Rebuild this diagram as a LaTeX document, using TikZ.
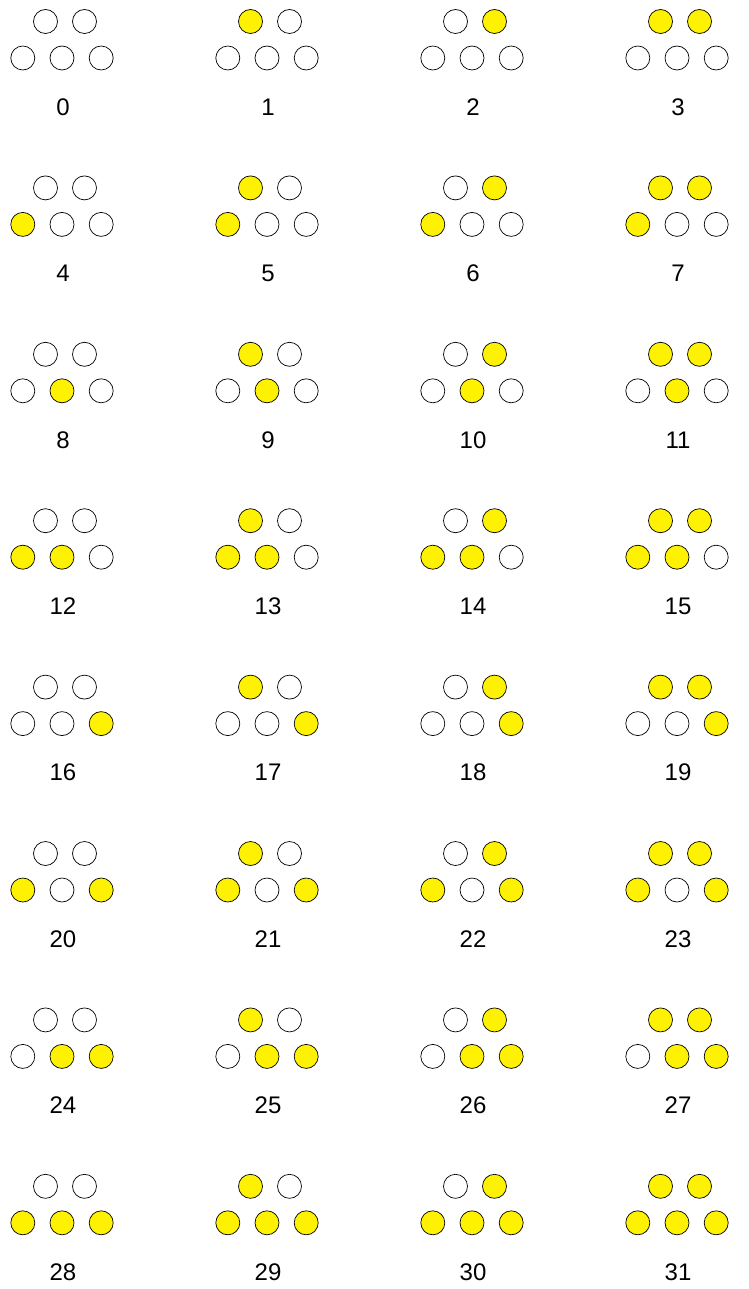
\documentclass[tikz,border=0pt]{standalone}
\usepackage{fontspec}
\setmainfont{Liberation Sans}
\usepackage{tikz}
\usetikzlibrary{positioning}

\begin{document}
\begin{tikzpicture}[
    x=1pt, y=-1pt,
    node distance=14.5pt,
    dot/.style={circle, draw, line width=0.7pt, minimum size=24pt, inner sep=0pt},
    led0/.style={dot, fill=white},
    led1/.style={dot, fill=yellow},
    num/.style={font=\fontsize{24}{26}\selectfont, inner sep=0pt}
]
\useasboundingbox (0,0) rectangle (748,1289);
% one cell per value, bit order: top left, top right, bottom left, middle, right
\foreach \n in {0,...,31} {
    \pgfmathtruncatemacro{\col}{mod(\n,4)}
    \pgfmathtruncatemacro{\row}{div(\n,4)}
    \pgfmathsetmacro{\cx}{62+205*\col}
    \pgfmathsetmacro{\cy}{21.5+166.4*\row}
    \pgfmathtruncatemacro{\ba}{mod(\n,2)}
    \pgfmathtruncatemacro{\bb}{mod(div(\n,2),2)}
    \pgfmathtruncatemacro{\bc}{mod(div(\n,4),2)}
    \pgfmathtruncatemacro{\bd}{mod(div(\n,8),2)}
    \pgfmathtruncatemacro{\be}{mod(div(\n,16),2)}
    \node[led\ba] (tl\n) at (\cx-16.5,\cy) {};
    \node[led\bb] (tr\n) at (\cx+22.5,\cy) {};
    \node[led\bd] (bm\n) at (\cx,\cy+36.5) {};
    \node[led\bc, left=of bm\n] (bl\n) {};
    \node[led\be, right=of bm\n] (br\n) {};
    \node[num] (lbl\n) at (\cx+1,\cy+85.5) {\n};
}
\end{tikzpicture}
\end{document}
